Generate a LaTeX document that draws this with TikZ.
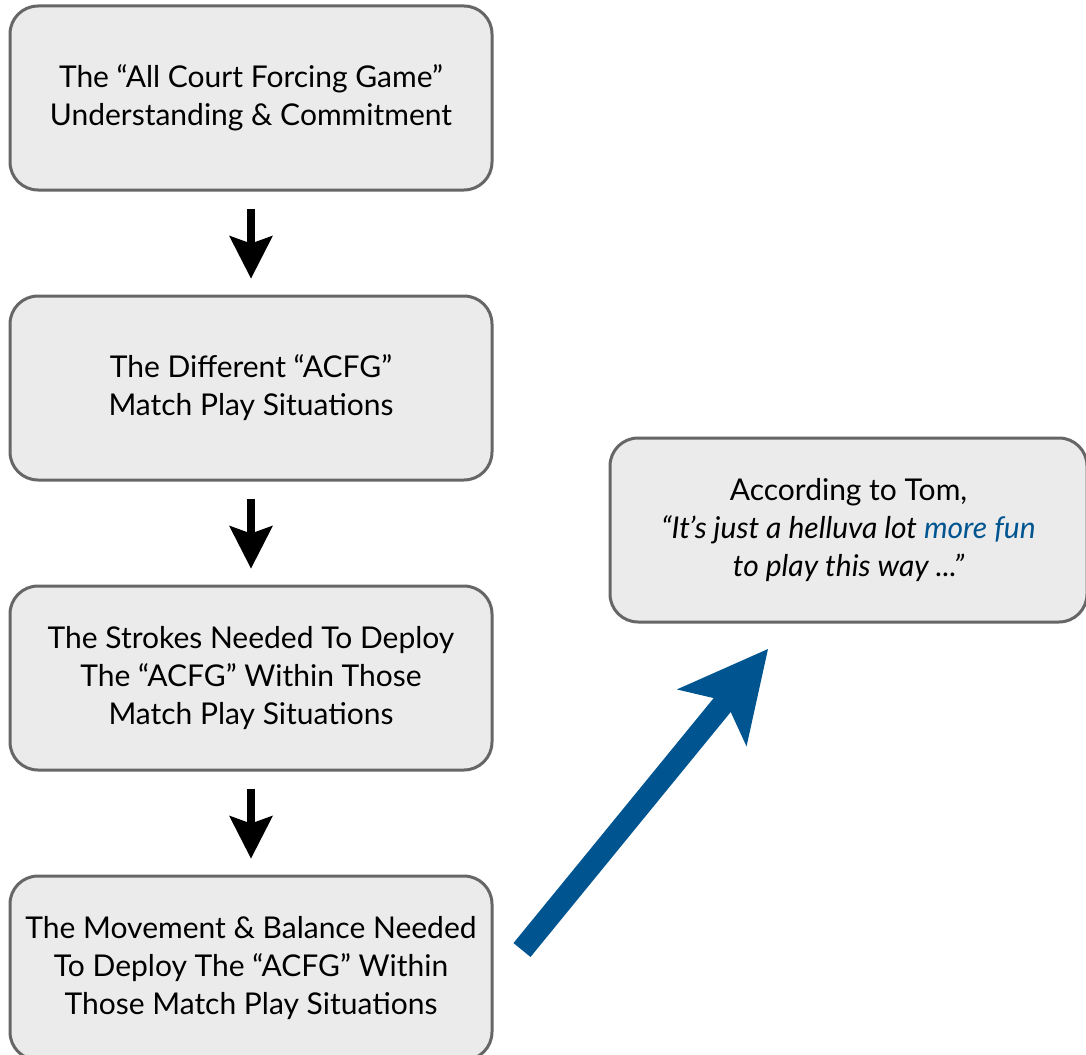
\documentclass[tikz,border=0pt]{standalone}
\usepackage{fontspec}
\setmainfont{Lato}
\usepackage{xcolor}
\usetikzlibrary{arrows.meta}
\usetikzlibrary{positioning}
\definecolor{acfgblue}{RGB}{0,85,145}
\definecolor{boxfill}{RGB}{235,235,235}
\definecolor{boxline}{RGB}{102,102,102}

\begin{document}
\begin{tikzpicture}[x=1pt,y=-1pt,
		stage/.style={draw=boxline,line width=3pt,fill=boxfill,rounded corners=28pt,
			minimum width=482pt,minimum height=184pt,inner sep=0pt,align=center,
			font=\fontsize{30}{38}\selectfont},
		down/.style={-{Stealth[length=43pt,width=44pt,inset=8pt,line width=0pt]},
			line width=8pt,shorten <=17pt,shorten >=16pt},
		lift/.style={draw=acfgblue,-{Stealth[length=89pt,width=90pt,inset=22pt,line width=0pt]},
			line width=22pt}]
		\useasboundingbox (0,0) rectangle (1086,1054);
		% left column
		\node[stage] (acfg) at (251,98) {The “All Court Forcing Game”\\Understanding \& Commitment};
		\node[stage,below=103pt of acfg] (situations) {The Different “ACFG”\\Match Play Situations};
		\node[stage,below=103pt of situations] (strokes) {The Strokes Needed To Deploy\\The “ACFG” Within Those\\Match Play Situations};
		\node[stage,below=103pt of strokes] (movement) {The Movement \& Balance Needed\\To Deploy The “ACFG” Within\\Those Match Play Situations};
		\foreach \from/\to in {acfg/situations,situations/strokes,strokes/movement}
		{
			\draw[down] (\from) -- (\to);
		}
		% quote
		\node[stage,minimum width=477pt] (tom) at (848.5,530) {According to Tom,\\
			\textit{“It’s just a helluva lot \textcolor{acfgblue}{more fun}}\\
			\textit{to play this way ...”}};
		\coordinate (tail) at (522,950);
		\coordinate (tip) at (768,649);
		\draw[lift] (tail) -- (tip);
	\end{tikzpicture}
\end{document}
